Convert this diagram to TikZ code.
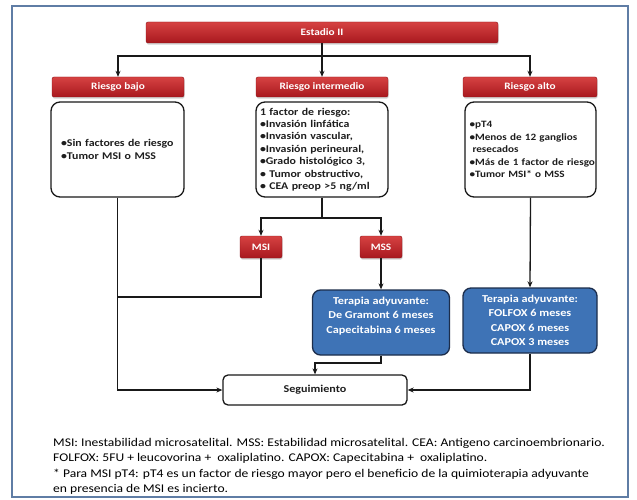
\documentclass[tikz,border=0pt]{standalone}
\usepackage{fontspec}
\setmainfont{Carlito}[FakeStretch=1.15]
\usetikzlibrary{arrows.meta,shadows}

\definecolor{frameblue}{RGB}{95,125,165}
\definecolor{redtop}{RGB}{214,66,66}
\definecolor{redbot}{RGB}{168,24,30}
\definecolor{redline}{RGB}{140,20,25}
\definecolor{bluefill}{RGB}{62,115,182}
\definecolor{blueline}{RGB}{28,45,75}
\definecolor{inkgray}{RGB}{30,30,30}

\begin{document}
\begin{tikzpicture}[x=1pt,y=-1pt,
  redbar/.style={draw=redline, line width=0.4pt, top color=redtop, bottom color=redbot,
    rounded corners=2pt, text=white, font=\bfseries\fontsize{9.8}{12}\selectfont,
    inner sep=0pt, drop shadow={shadow xshift=0.6pt, shadow yshift=-1.6pt, opacity=0.35}},
  wbox/.style={draw=black!90, line width=1.3pt, rounded corners=9pt, fill=white,
    text=inkgray, font=\bfseries\fontsize{10.3}{12.4}\selectfont, align=left,
    inner ysep=0pt, minimum height=95pt},
  bbox/.style={draw=blueline, line width=1.3pt, rounded corners=8pt, fill=bluefill,
    text=white, font=\bfseries\fontsize{10.6}{14.5}\selectfont, align=center,
    inner sep=0pt, minimum height=65pt},
  segbox/.style={draw=black!90, line width=1.3pt, rounded corners=5pt, fill=white,
    text=inkgray, font=\bfseries\fontsize{10.5}{12}\selectfont, inner sep=0pt},
  conn/.style={draw=black!90, line width=1.3pt},
  arr/.style={conn, -{Stealth[length=6pt,width=5pt]}},
  foot/.style={anchor=base west, inner sep=0pt, text=black, font=\fontsize{11.8}{13}\selectfont}
]
% canvas and outer frame
\useasboundingbox (0,0) rectangle (637,500);
\fill[white] (0,0) rectangle (637,500);
\draw[frameblue, line width=1.2pt] (12,6) rectangle (628,497);

% header and risk groups
\node[redbar, minimum width=352pt, minimum height=21pt] (est) at (322,32.5) {Estadio II};
\node[redbar, minimum width=132pt, minimum height=20pt] (rb) at (118,87) {Riesgo bajo};
\node[redbar, minimum width=132pt, minimum height=20pt] (ri) at (322,87) {Riesgo intermedio};
\node[redbar, minimum width=134pt, minimum height=20pt] (ra) at (530,87) {Riesgo alto};

% criteria boxes
\node[wbox, text width=113pt, inner xsep=10pt] (bl) at (117.5,149.5)
  {•Sin factores de riesgo\\•Tumor MSI o MSS};
\node[wbox, text width=124pt, inner xsep=4pt] (bm) at (322,149.5)
  {1 factor de riesgo:\\•Invasión linfática\\•Invasión vascular,\\•Invasión perineural,\\•Grado histológico 3,\\• Tumor obstructivo,\\• CEA preop >5 ng/ml};
\node[wbox, text width=122pt, inner xsep=4.5pt, font=\bfseries\fontsize{9.7}{12.4}\selectfont] (br) at (530.5,149.5)
  {•pT4\\•Menos de 12 ganglios\\\hspace*{3pt}resecados\\\mbox{•Más de 1 factor de riesgo}\\•Tumor MSI* o MSS};

% MSI / MSS split
\node[redbar, minimum width=42pt, minimum height=22pt] (msi) at (261,247) {MSI};
\node[redbar, minimum width=42pt, minimum height=22pt] (mss) at (381,247) {MSS};

% adjuvant therapy
\node[bbox, minimum width=137pt] (t1) at (381,322.5)
  {Terapia adyuvante:\\De Gramont 6 meses\\Capecitabina 6 meses\\[0pt]\mbox{}};
\node[bbox, minimum width=134pt] (t2) at (530,320.5)
  {Terapia adyuvante:\\FOLFOX 6 meses\\CAPOX 6 meses\\CAPOX 3 meses};

% follow-up
\node[segbox, minimum width=184pt, minimum height=30pt] (seg) at (315,390) {Seguimiento};

% connectors
\coordinate (j1) at (322,56);
\coordinate (j2) at (322,218);
\coordinate (j3) at (117.5,297);
\coordinate (j4) at (315,363);
\draw[conn] (est.south) -- (j1);
\draw[arr] (j1) -| (rb.north);
\draw[arr] (j1) -- (ri.north);
\draw[arr] (j1) -| (ra.north);
\draw[conn] (bm.south) -- (j2);
\draw[arr] (j2) -| (msi.north);
\draw[arr] (j2) -| (mss.north);
\draw[conn] (msi.south) |- (j3);
\draw[arr] (mss.south) -- (t1.north);
\draw[arr] (br.south) -- (t2.north);
\draw[arr] (bl.south) |- (seg.west);
\draw[arr] (t1.south) |- (j4) -- (seg.north);
\draw[arr] (t2.south) |- (seg.east);

% footnotes
\node[foot] (f1) at (53,446) {MSI: Inestabilidad microsatelital. MSS: Estabilidad microsatelital. CEA: Antigeno carcinoembrionario.};
\node[foot] (f2) at (53,461.5) {FOLFOX: 5FU + leucovorina +\ \ oxaliplatino. CAPOX: Capecitabina +\ \ oxaliplatino.};
\node[foot] (f3) at (53,477) {* Para MSI pT4: pT4 es un factor de riesgo mayor pero el beneficio de la quimioterapia adyuvante};
\node[foot] (f4) at (53,492.5) {en presencia de MSI es incierto.};
\end{tikzpicture}
\end{document}
